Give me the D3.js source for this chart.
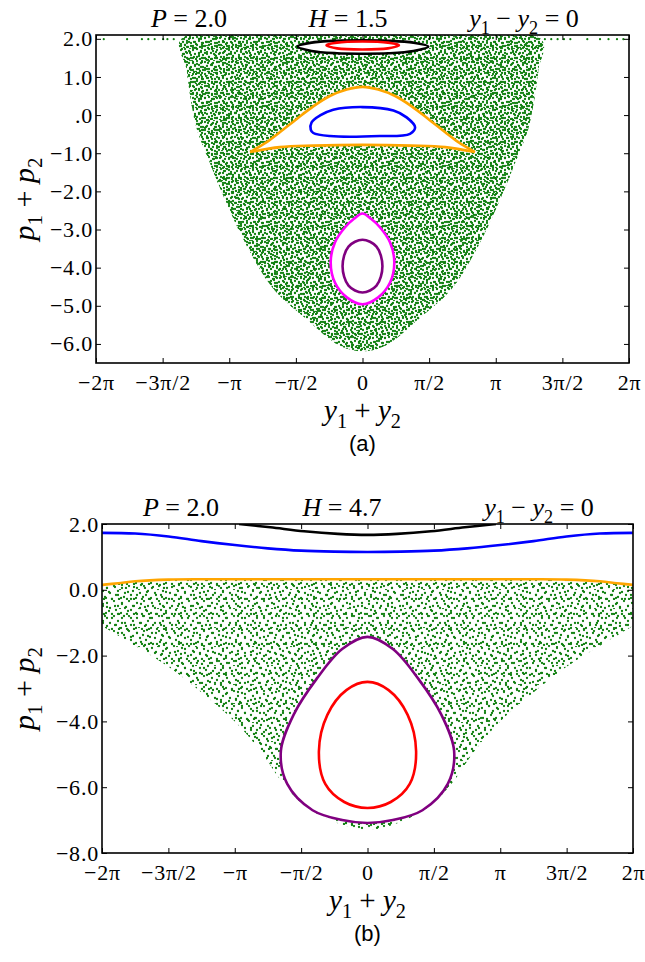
<!DOCTYPE html>
<html>
<head>
<meta charset="utf-8">
<script src="https://cdn.jsdelivr.net/npm/d3@7"></script>
<style>
  html, body { margin: 0; padding: 0; background: #fff; }
  svg { display: block; }
  text { font-family: 'Liberation Serif', 'DejaVu Serif', serif; fill: #000; }
  .tick text { font-size: 22px; letter-spacing: 0.8px; }
</style>
</head>
<body>
<svg id="fig" width="645" height="962"></svg>
<script>
// ---- shared axis data ----
const TAU = 2 * Math.PI;
const xTickValues = [-2, -1.5, -1, -0.5, 0, 0.5, 1, 1.5, 2].map(k => k * Math.PI);
const xTickLabels = ["−2π", "−3π/2", "−π", "−π/2", "0", "π/2", "π", "3π/2", "2π"];

// ---- panel (a): H = 1.5 ----
const yTicksA = [2, 1, 0, -1, -2, -3, -4, -5, -6];
const yTickLabelsA = ["2.0", "1.0", ".0", "−1.0", "−2.0", "−3.0", "−4.0", "−5.0", "−6.0"];
// boundary of the chaotic sea (closed outline)
const seaA = [
  [-4.28, 1.98], [-4.15, 1.2], [-4.05, 0.4], [-3.9, -0.4], [-3.62, -1.2], [-3.25, -2.2],
  [-2.73, -3.43], [-2.10, -4.56], [-1.32, -5.35], [-0.53, -6.05], [0, -6.2],
  [0.53, -6.05], [1.32, -5.35], [2.10, -4.56], [2.73, -3.43], [3.25, -2.2],
  [3.62, -1.2], [3.9, -0.4], [4.05, 0.4], [4.15, 1.2], [4.22, 1.98]
];
// sparse orbit points along the p1+p2 = 2 edge
const edgeDotsA = [-6.1, -5.55, -5.2, -5.05, -4.9, -4.7, -4.6, -4.45, 4.3, 4.45, 4.6, 4.75, 4.9, 5.3, 5.6, 5.8, 6.0, 6.15];
const blackA = [[-1.53, 1.80], [-1.2, 1.90], [-0.6, 1.95], [0, 1.96], [0.6, 1.95], [1.2, 1.90], [1.55, 1.80],
  [1.2, 1.68], [0.6, 1.62], [0, 1.61], [-0.6, 1.62], [-1.2, 1.68]];
const redA = [[-0.85, 1.83], [-0.6, 1.90], [0, 1.93], [0.6, 1.90], [0.86, 1.83], [0.6, 1.75], [0, 1.72], [-0.6, 1.75]];
const orangeTopA = [[-2.65, -0.97], [-2.26, -0.71], [-1.95, -0.45], [-1.55, -0.10], [-1.16, 0.23], [-0.77, 0.50],
  [-0.37, 0.67], [0, 0.74], [0.37, 0.67], [0.77, 0.50], [1.16, 0.23], [1.55, -0.10], [1.95, -0.45], [2.26, -0.71], [2.65, -0.97]];
const orangeBottomA = [[2.65, -0.97], [1.95, -0.84], [1.16, -0.80], [0, -0.78], [-1.16, -0.80], [-1.95, -0.84], [-2.65, -0.97]];
const blueA = [[-1.22, -0.38], [-1.20, -0.19], [-1.0, -0.01], [-0.69, 0.14], [0, 0.21], [0.73, 0.12], [1.04, -0.06],
  [1.24, -0.32], [1.12, -0.49], [0.41, -0.55], [-0.77, -0.55], [-1.16, -0.47]];
const magentaA = [[0, -2.58], [0.2, -2.72], [0.41, -2.94], [0.65, -3.34], [0.75, -3.86], [0.65, -4.39], [0.37, -4.78],
  [0, -4.96], [-0.37, -4.78], [-0.65, -4.39], [-0.75, -3.86], [-0.65, -3.34], [-0.41, -2.94], [-0.2, -2.72]];
const purpleA = [[0, -3.27], [0.33, -3.45], [0.47, -3.96], [0.33, -4.47], [0, -4.65], [-0.33, -4.47], [-0.47, -3.96], [-0.33, -3.45]];

// ---- panel (b): H = 4.7 ----
const yTicksB = [2, 0, -2, -4, -6, -8];
const yTickLabelsB = ["2.0", "0.0", "−2.0", "−4.0", "−6.0", "−8.0"];
const orangeB = [[-6.28, 0.15], [-5.9, 0.2], [-5.5, 0.26], [-4.71, 0.31], [-3.93, 0.32], [-3.14, 0.32], [-2.36, 0.32],
  [-1.57, 0.32], [-0.79, 0.32], [0, 0.32], [0.79, 0.32], [1.57, 0.32], [2.36, 0.32], [3.14, 0.32], [3.93, 0.32],
  [4.71, 0.31], [5.5, 0.26], [5.9, 0.2], [6.28, 0.15]];
const blueB = [[-6.28, 1.73], [-5.5, 1.71], [-4.71, 1.62], [-3.93, 1.48], [-3.14, 1.36], [-2.36, 1.26], [-1.57, 1.19],
  [-0.79, 1.16], [0, 1.15], [0.79, 1.16], [1.57, 1.19], [2.36, 1.26], [3.14, 1.36], [3.93, 1.48], [4.71, 1.62],
  [5.5, 1.71], [6.28, 1.73]];
const blackB = [[-3.04, 2.0], [-2.3, 1.9], [-1.5, 1.78], [-0.7, 1.70], [0, 1.67], [0.7, 1.70], [1.5, 1.78], [2.3, 1.9], [3.04, 2.0]];
// lower edge of the chaotic sea, left to right (its upper edge follows the orange torus)
const seaBottomB = [[-6.28, -1.1], [-5.5, -1.7], [-4.7, -2.35], [-3.9, -3.15], [-3.14, -4.0], [-2.5, -4.95], [-2.05, -5.8],
  [-1.5, -6.55], [-0.8, -7.05], [0, -7.3], [0.8, -7.05], [1.5, -6.55], [2.05, -5.8], [2.5, -4.95], [3.14, -4.0],
  [3.9, -3.15], [4.7, -2.35], [5.5, -1.7], [6.28, -1.1]];
const purpleB = [[0, -1.43], [0.6, -1.8], [1.2, -2.7], [1.75, -3.8], [2.05, -4.9], [1.9, -5.9], [1.3, -6.7], [0.6, -7.0],
  [0, -7.09], [-0.6, -7.0], [-1.3, -6.7], [-1.9, -5.9], [-2.05, -4.9], [-1.75, -3.8], [-1.2, -2.7], [-0.6, -1.8]];
const redB = [[0, -2.8], [0.5, -3.05], [0.95, -3.8], [1.15, -4.9], [1.0, -5.9], [0.55, -6.45], [0, -6.63],
  [-0.55, -6.45], [-1.0, -5.9], [-1.15, -4.9], [-0.95, -3.8], [-0.5, -3.05]];

// dot textures for the chaotic sea (dot offsets inside one tile)
const texA1 = { size: 12, dots: [[1, 2], [5, 1], [9, 3], [3, 6], [7, 5], [11, 7], [1, 10], [5, 9], [8, 11], [10, 0], [4, 12], [11, 10]] };
const texA2 = { size: 15, dots: [[2, 4], [7, 2], [13, 3], [4, 9], [10, 8], [14, 12], [1, 14], [7, 13], [12, 0], [6, 7]] };
const texA3 = { size: 17, dots: [[3, 1], [12, 5], [8, 14], [15, 11], [2, 8]] };
const texB1 = { size: 15, dots: [[2, 3], [9, 1], [13, 6], [5, 8], [11, 10], [1, 13], [7, 14], [14, 14]] };
const texB2 = { size: 19, dots: [[4, 6], [14, 3], [17, 10], [8, 15], [12, 18], [1, 17], [10, 8], [6, 0]] };

const GREEN = "#0f7f0f";
const svg = d3.select("#fig");
const defs = svg.append("defs");

function makePattern(id, tex) {
  const p = defs.append("pattern").attr("id", id).attr("patternUnits", "userSpaceOnUse")
    .attr("width", tex.size).attr("height", tex.size);
  p.selectAll("circle").data(tex.dots).join("circle")
    .attr("cx", d => d[0]).attr("cy", d => d[1]).attr("r", 1.15).attr("fill", GREEN);
}
makePattern("dA1", texA1);
makePattern("dA2", texA2);
makePattern("dA3", texA3);
makePattern("dB1", texB1);
makePattern("dB2", texB2);

const SERIF = "'Liberation Serif', 'DejaVu Serif', serif";

function addMathLabel(g, x, y, parts, size, anchor, rotate) {
  // parts: [text, italic?, subscript?]
  const t = g.append("text").attr("x", x).attr("y", y).attr("font-size", size)
    .attr("text-anchor", anchor || "middle").style("font-family", SERIF);
  if (rotate) t.attr("transform", `rotate(${rotate},${x},${y})`);
  let shifted = false;
  parts.forEach(([s, it, sub]) => {
    const ts = t.append("tspan").text(s);
    if (it) ts.attr("font-style", "italic");
    if (sub && !shifted) { ts.attr("dy", size * 0.28).attr("font-size", size * 0.7); shifted = true; }
    else if (!sub && shifted) { ts.attr("dy", -size * 0.28); shifted = false; }
    else if (sub) ts.attr("font-size", size * 0.7);
  });
  return t;
}

function drawPanel(cfg) {
  const g = svg.append("g");
  const x = d3.scaleLinear().domain([-TAU, TAU]).range([cfg.left, cfg.right]);
  const y = d3.scaleLinear().domain(cfg.yDomain).range([cfg.bottom, cfg.top]);
  const clipId = "clip" + cfg.id;
  defs.append("clipPath").attr("id", clipId).append("rect")
    .attr("x", cfg.left).attr("y", cfg.top).attr("width", cfg.right - cfg.left).attr("height", cfg.bottom - cfg.top);
  const plot = g.append("g").attr("clip-path", `url(#${clipId})`);
  cfg.draw(plot, x, y);

  // axes with inward ticks on all four sides
  const tickLen = 5;
  const ax = (gen, tx, ty) => {
    const a = g.append("g").attr("transform", `translate(${tx},${ty})`).call(gen)
      .attr("font-family", null).attr("font-size", null);
    a.select(".domain").remove();
    a.selectAll(".tick line").attr("stroke", "#000").attr("stroke-width", 1);
    a.selectAll(".tick text").attr("font-family", SERIF).attr("font-size", 22).attr("fill", "#000");
    return a;
  };
  ax(d3.axisBottom(x).tickValues(xTickValues).tickSize(-tickLen).tickPadding(11)
      .tickFormat((d, i) => xTickLabels[i]), 0, cfg.bottom);
  ax(d3.axisTop(x).tickValues(xTickValues).tickSize(-tickLen).tickFormat(""), 0, cfg.top);
  ax(d3.axisLeft(y).tickValues(cfg.yTicks).tickSize(-tickLen).tickPadding(3)
      .tickFormat((d, i) => cfg.yTickLabels[i]), cfg.left, 0);
  ax(d3.axisRight(y).tickValues(cfg.yTicks).tickSize(-tickLen).tickFormat(""), cfg.right, 0);

  g.append("rect").attr("x", cfg.left).attr("y", cfg.top)
    .attr("width", cfg.right - cfg.left).attr("height", cfg.bottom - cfg.top)
    .attr("fill", "none").attr("stroke", "#000").attr("stroke-width", 1.6);

  // titles
  const ty = cfg.top - 8;
  addMathLabel(g, cfg.titleX[0], ty, [["P", true], [" = 2.0"]], 26);
  addMathLabel(g, cfg.titleX[1], ty, [["H", true], [" = " + cfg.energy]], 26);
  addMathLabel(g, cfg.titleX[2], ty, [["y", true], ["1", false, true], [" − "], ["y", true], ["2", false, true], [" = 0"]], 26);

  // axis labels
  const midY = (cfg.top + cfg.bottom) / 2;
  addMathLabel(g, (cfg.left + cfg.right) / 2, cfg.bottom + 57, [["y", true], ["1", false, true], [" + "], ["y", true], ["2", false, true]], 29);
  addMathLabel(g, 34, midY, [["p", true], ["1", false, true], [" + "], ["p", true], ["2", false, true]], 30, "middle", -90);
  g.append("text").attr("x", (cfg.left + cfg.right) / 2).attr("y", cfg.bottom + 88)
    .attr("text-anchor", "middle").attr("font-size", 22)
    .style("font-family", "'Liberation Sans', Arial, sans-serif").text(cfg.tag);
}

drawPanel({
  id: "A", left: 96, right: 629, top: 35, bottom: 363, yDomain: [-6.5, 2.1],
  yTicks: yTicksA, yTickLabels: yTickLabelsA, energy: "1.5", tag: "(a)",
  titleX: [189, 348, 524],
  draw(plot, x, y) {
    const closed = d3.line().x(d => x(d[0])).y(d => y(d[1])).curve(d3.curveCatmullRomClosed);
    const open = d3.line().x(d => x(d[0])).y(d => y(d[1])).curve(d3.curveCatmullRom);
    const seaPath = closed(seaA);
    ["dA1", "dA2", "dA3"].forEach(id => plot.append("path").attr("d", seaPath).attr("fill", `url(#${id})`));
    plot.selectAll("circle.edge").data(edgeDotsA).join("circle").attr("class", "edge")
      .attr("cx", d => x(d)).attr("cy", y(1.99)).attr("r", 1.1).attr("fill", GREEN);
    // regular tori drawn over the sea
    const orangeFill = open(orangeTopA) + open(orangeBottomA).replace(/^M/, "L") + "Z";
    plot.append("path").attr("d", orangeFill).attr("fill", "#fff").attr("stroke", "none");
    plot.append("path").attr("d", open(orangeTopA)).attr("fill", "none").attr("stroke", "#ffa500").attr("stroke-width", 2.6);
    plot.append("path").attr("d", open(orangeBottomA)).attr("fill", "none").attr("stroke", "#ffa500").attr("stroke-width", 2.6);
    plot.append("path").attr("d", closed(blueA)).attr("fill", "none").attr("stroke", "#0000ff").attr("stroke-width", 2.6);
    plot.append("path").attr("d", closed(blackA)).attr("fill", "#fff").attr("stroke", "#000").attr("stroke-width", 2.6);
    plot.append("path").attr("d", closed(redA)).attr("fill", "none").attr("stroke", "#ff0000").attr("stroke-width", 2.6);
    plot.append("path").attr("d", closed(magentaA)).attr("fill", "#fff").attr("stroke", "#ff00ff").attr("stroke-width", 2.6);
    plot.append("path").attr("d", closed(purpleA)).attr("fill", "none").attr("stroke", "#800080").attr("stroke-width", 2.6);
  }
});

drawPanel({
  id: "B", left: 102, right: 633, top: 524, bottom: 853, yDomain: [-8, 2],
  yTicks: yTicksB, yTickLabels: yTickLabelsB, energy: "4.7", tag: "(b)",
  titleX: [181, 342, 539],
  draw(plot, x, y) {
    const closed = d3.line().x(d => x(d[0])).y(d => y(d[1])).curve(d3.curveCatmullRomClosed);
    const open = d3.line().x(d => x(d[0])).y(d => y(d[1])).curve(d3.curveCatmullRom);
    const seaPath = open(orangeB) + open(seaBottomB.slice().reverse()).replace(/^M/, "L") + "Z";
    ["dB1", "dB2"].forEach(id => plot.append("path").attr("d", seaPath).attr("fill", `url(#${id})`));
    plot.append("path").attr("d", closed(purpleB)).attr("fill", "#fff").attr("stroke", "#800080").attr("stroke-width", 2.6);
    plot.append("path").attr("d", closed(redB)).attr("fill", "none").attr("stroke", "#ff0000").attr("stroke-width", 2.6);
    plot.append("path").attr("d", open(orangeB)).attr("fill", "none").attr("stroke", "#ffa500").attr("stroke-width", 2.6);
    plot.append("path").attr("d", open(blueB)).attr("fill", "none").attr("stroke", "#0000ff").attr("stroke-width", 2.6);
    plot.append("path").attr("d", open(blackB)).attr("fill", "none").attr("stroke", "#000").attr("stroke-width", 2.6);
  }
});
</script>
</body>
</html>
